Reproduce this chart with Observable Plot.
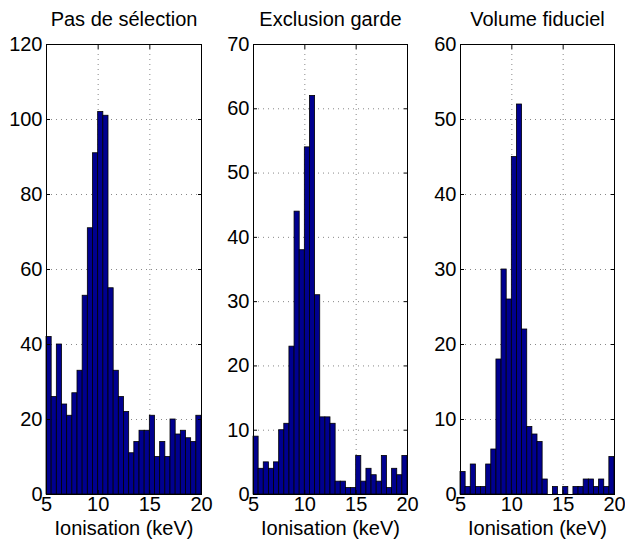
<!DOCTYPE html>
<html>
<head>
<meta charset="utf-8">
<script src="https://cdn.jsdelivr.net/npm/d3@7"></script>
<script src="https://cdn.jsdelivr.net/npm/@observablehq/plot@0.6"></script>
<style>
  html, body { margin: 0; padding: 0; background: white; }
  #root { position: relative; width: 625px; height: 540px; overflow: hidden; }
  #root svg { position: absolute; top: 0; }
</style>
</head>
<body>
<div id="root"></div>
<script>
// Bin start edges (keV), bin width 0.5
const binStarts = [5,5.5,6,6.5,7,7.5,8,8.5,9,9.5,10,10.5,11,11.5,12,12.5,13,13.5,14,14.5,15,15.5,16,16.5,17,17.5,18,18.5,19,19.5];
const binWidth = 0.5;

const titles = ["Pas de sélection", "Exclusion garde", "Volume fiduciel"];
const xLabel = "Ionisation (keV)";

const countsNoSelection = [42,26,40,24,21,27,33,53,71,91,102,101,55,33,26,22,11,14,17,17,21,10,14,10,20,16,17,15,14,21];
const countsGuardExclusion = [9,4,5,4,5,10,11,23,44,38,54,62,31,12,12,11,2,2,1,1,6,2,4,3,2,6,1,4,3,6];
const countsFiducial = [3,1,4,1,1,4,6,18,30,26,45,52,22,9,8,7,2,0,1,0,1,0,1,1,2,2,1,2,1,5];

const xTicks = [5,10,15,20];
const yTicks1 = [0,20,40,60,80,100,120];
const yTicks2 = [0,10,20,30,40,50,60,70];
const yTicks3 = [0,10,20,30,40,50,60];

const panels = [
  {title: titles[0], counts: countsNoSelection, yTicks: yTicks1, frameLeft: 46, frameRight: 201},
  {title: titles[1], counts: countsGuardExclusion, yTicks: yTicks2, frameLeft: 253, frameRight: 407},
  {title: titles[2], counts: countsFiducial, yTicks: yTicks3, frameLeft: 460, frameRight: 614}
];

const FONT = "'Liberation Sans', Arial, Helvetica, sans-serif";
const FS = 20;
const BAR = "#00008f";
const root = document.getElementById("root");

for (const p of panels) {
  const data = binStarts.map((x1, i) => ({x1, x2: x1 + binWidth, y: p.counts[i]}));
  const yMax = p.yTicks[p.yTicks.length - 1];
  const mL = 46, mR = 11;
  const width = mL + (p.frameRight - p.frameLeft) + mR;
  const gridX = xTicks.filter(t => t > 5 && t < 20);
  const gridY = p.yTicks.filter(t => t > 0 && t < yMax);
  const chart = Plot.plot({
    width,
    height: 540,
    marginLeft: mL,
    marginRight: mR,
    marginTop: 44,
    marginBottom: 46,
    style: {background: "transparent", fontFamily: FONT, fontSize: FS + "px", color: "black", overflow: "visible"},
    x: {domain: [5, 20]},
    y: {domain: [0, yMax]},
    marks: [
      Plot.gridX(gridX, {stroke: "#888", strokeOpacity: 1, strokeDasharray: "1,4", strokeWidth: 1}),
      Plot.gridY(gridY, {stroke: "#888", strokeOpacity: 1, strokeDasharray: "1,4", strokeWidth: 1}),
      Plot.rectY(data, {x1: "x1", x2: "x2", y: "y", fill: BAR, stroke: "black", strokeWidth: 0.8, inset: 0}),
      Plot.axisX(xTicks, {anchor: "bottom", tickSize: 0, tickPadding: 2, fontSize: FS, label: null}),
      Plot.axisX(xTicks, {anchor: "bottom", tickSize: -4, tickFormat: () => "", label: null}),
      Plot.axisX(xTicks, {anchor: "top", tickSize: -4, tickFormat: () => "", label: null}),
      Plot.axisY(p.yTicks, {anchor: "left", tickSize: 0, tickPadding: 4, fontSize: FS, label: null}),
      Plot.axisY(p.yTicks, {anchor: "left", tickSize: -4, tickFormat: () => "", label: null}),
      Plot.axisY(p.yTicks, {anchor: "right", tickSize: -4, tickFormat: () => "", label: null}),
      Plot.frame({stroke: "black", strokeWidth: 1}),
      Plot.text([p.title], {frameAnchor: "top", dy: -25, text: d => d, fontSize: FS, fill: "black", lineAnchor: "middle"}),
      Plot.text([xLabel], {frameAnchor: "bottom", dy: 34, text: d => d, fontSize: FS, fill: "black", lineAnchor: "middle"})
    ]
  });
  chart.style.left = (p.frameLeft - mL) + "px";
  root.appendChild(chart);
}
</script>
</body>
</html>
